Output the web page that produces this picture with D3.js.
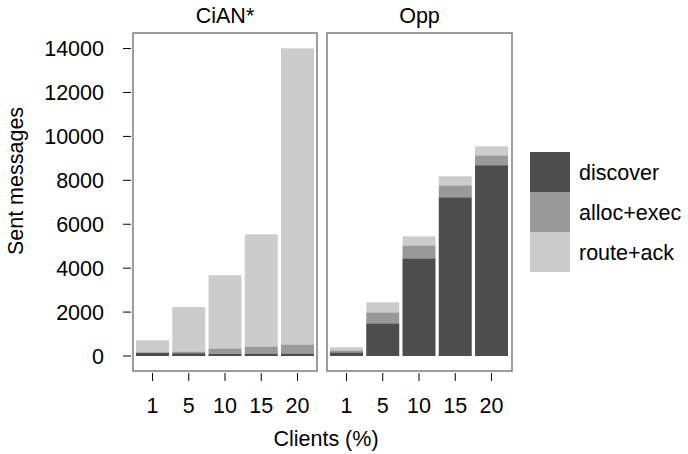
<!DOCTYPE html>
<html>
<head>
<meta charset="utf-8">
<script src="https://cdn.jsdelivr.net/npm/d3@7"></script>
<style>
  body { margin: 0; background: #fff; }
  text { font-family: "Liberation Sans", Arial, sans-serif; fill: #000; }
</style>
</head>
<body>
<div id="chart"></div>
<script>
// values
var clients = ["1", "5", "10", "15", "20"];
var panels = ["CiAN*", "Opp"];
var series = ["discover", "alloc+exec", "route+ack"];
var colors = ["#4d4d4d", "#999999", "#cccccc"];

var cianDiscover = [160, 130, 90, 120, 120];
var cianAlloc    = [10, 80, 260, 320, 410];
var cianRoute    = [545, 2020, 3325, 5100, 13480];

var oppDiscover = [170, 1490, 4450, 7230, 8690];
var oppAlloc    = [90, 500, 590, 545, 450];
var oppRoute    = [140, 455, 410, 410, 410];

var yTicks = [0, 2000, 4000, 6000, 8000, 10000, 12000, 14000];

var width = 688, height = 454;
var fontSize = 21.5;

var svg = d3.select("#chart").append("svg")
    .attr("width", width).attr("height", height);

// panel boxes
var panelBox = [
  {x0: 133, x1: 317, bars: [136, 314]},
  {x0: 327, x1: 512, bars: [330, 508]}
];
var plotTop = 33, plotBottom = 371;

var y = d3.scaleLinear().domain([-683, 14709]).range([plotBottom, plotTop]);

function rows(d, a, r) {
  return clients.map(function(c, i) {
    return {client: c, "discover": d[i], "alloc+exec": a[i], "route+ack": r[i]};
  });
}
var panelData = [
  rows(cianDiscover, cianAlloc, cianRoute),
  rows(oppDiscover, oppAlloc, oppRoute)
];

var stack = d3.stack().keys(series);

panels.forEach(function(name, p) {
  var box = panelBox[p];
  var x = d3.scaleBand().domain(clients).range(box.bars)
      .paddingInner(0.09).paddingOuter(0);

  var g = svg.append("g");

  var layers = stack(panelData[p]);
  g.selectAll(".layer")
    .data(layers)
    .enter().append("g")
    .attr("fill", function(d, i) { return colors[i]; })
    .selectAll("rect")
    .data(function(d) { return d; })
    .enter().append("rect")
    .attr("x", function(d) { return x(d.data.client); })
    .attr("width", x.bandwidth())
    .attr("y", function(d) { return y(d[1]); })
    .attr("height", function(d) { return y(d[0]) - y(d[1]); });

  g.append("rect")
    .attr("x", box.x0).attr("y", plotTop)
    .attr("width", box.x1 - box.x0).attr("height", plotBottom - plotTop)
    .attr("fill", "none").attr("stroke", "#858585").attr("stroke-width", 1.6);

  // x ticks
  g.selectAll(".xt")
    .data(clients)
    .enter().append("line")
    .attr("x1", function(d) { return x(d) + x.bandwidth() / 2; })
    .attr("x2", function(d) { return x(d) + x.bandwidth() / 2; })
    .attr("y1", 373).attr("y2", 381)
    .attr("stroke", "#000").attr("stroke-width", 1);

  g.selectAll(".xl")
    .data(clients)
    .enter().append("text")
    .attr("x", function(d) { return x(d) + x.bandwidth() / 2; })
    .attr("y", 413)
    .attr("text-anchor", "middle")
    .attr("font-size", fontSize)
    .text(function(d) { return d; });

  g.append("text")
    .attr("x", (box.x0 + box.x1) / 2)
    .attr("y", 23)
    .attr("text-anchor", "middle")
    .attr("font-size", fontSize)
    .text(name);
});

// y axis
var yAxis = svg.append("g");
yAxis.selectAll("line")
  .data(yTicks)
  .enter().append("line")
  .attr("x1", 123).attr("x2", 131)
  .attr("y1", function(d) { return y(d); })
  .attr("y2", function(d) { return y(d); })
  .attr("stroke", "#000");

yAxis.selectAll("text")
  .data(yTicks)
  .enter().append("text")
  .attr("x", 104)
  .attr("y", function(d) { return y(d); })
  .attr("dy", "0.36em")
  .attr("text-anchor", "end")
  .attr("font-size", fontSize)
  .text(function(d) { return d; });

svg.append("text")
  .attr("transform", "translate(23,181) rotate(-90)")
  .attr("text-anchor", "middle")
  .attr("font-size", fontSize)
  .text("Sent messages");

svg.append("text")
  .attr("x", 326)
  .attr("y", 446)
  .attr("text-anchor", "middle")
  .attr("font-size", fontSize)
  .text("Clients (%)");

// legend
var legend = svg.append("g");
legend.selectAll("rect")
  .data(series)
  .enter().append("rect")
  .attr("x", 530)
  .attr("y", function(d, i) { return 152 + i * 40; })
  .attr("width", 40).attr("height", 40)
  .attr("fill", function(d, i) { return colors[i]; });

legend.selectAll("text")
  .data(series)
  .enter().append("text")
  .attr("x", 579)
  .attr("y", function(d, i) { return 172 + i * 40; })
  .attr("dy", "0.36em")
  .attr("font-size", fontSize)
  .text(function(d) { return d; });
</script>
</body>
</html>
